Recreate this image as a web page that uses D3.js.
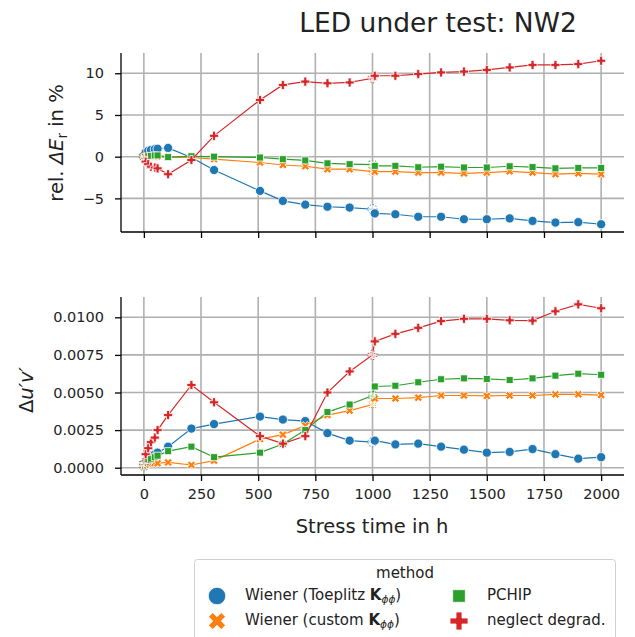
<!DOCTYPE html>
<html>
<head>
<meta charset="utf-8">
<script src="https://cdn.jsdelivr.net/npm/d3@7"></script>
<style>
  body { margin: 0; background: #fff; }
  svg text { font-family: "DejaVu Sans", sans-serif; fill: #222; }
</style>
</head>
<body>
<svg id="chart"></svg>
<script>
// stress times in h
const times = [0, 8, 19, 31, 48, 60, 106, 208, 307, 508, 608, 706, 803, 900, 1000, 1010, 1100, 1200, 1300, 1400, 1500, 1600, 1700, 1800, 1900, 2000]
// points drawn with a dashed outline (start of a measurement block)
const dashedIdx = [0, 14]

const methods = ["Wiener (Toeplitz)", "Wiener (custom)", "PCHIP", "neglect degrad."]

// rel. delta E_r in %
const toeplitzE = [0.1, 0.5, 0.7, 0.8, 0.9, 0.95, 1.05, -0.1, -1.6, -4.1, -5.3, -5.75, -6.0, -6.1, -6.3, -6.8, -6.9, -7.2, -7.2, -7.5, -7.5, -7.4, -7.7, -7.9, -7.85, -8.1]
const customE = [0, 0, 0, 0, 0, 0, -0.05, -0.1, -0.3, -0.7, -1.0, -1.15, -1.5, -1.5, -1.8, -1.8, -1.8, -1.9, -1.9, -2.0, -1.9, -1.75, -1.9, -2.1, -2.0, -2.1]
const pchipE = [0, 0, 0.05, 0.1, 0.15, 0.15, -0.05, 0.05, 0.0, -0.1, -0.3, -0.45, -0.8, -0.9, -0.95, -1.1, -1.1, -1.27, -1.2, -1.3, -1.3, -1.15, -1.25, -1.4, -1.35, -1.35]
const neglectE = [0, -0.6, -0.9, -1.2, -1.3, -1.4, -2.1, -0.4, 2.5, 6.8, 8.6, 9.0, 8.8, 8.9, 9.4, 9.7, 9.7, 9.9, 10.1, 10.2, 10.4, 10.7, 11.0, 11.0, 11.1, 11.5]

// delta u'v'
const toeplitzUV = [0.0001, 0.0004, 0.0006, 0.0008, 0.0009, 0.0010, 0.0014, 0.0026, 0.0029, 0.0034, 0.0032, 0.0031, 0.0023, 0.0018, 0.0017, 0.0018, 0.00155, 0.0016, 0.0014, 0.0012, 0.0010, 0.00105, 0.00124, 0.0009, 0.0006, 0.0007]
const customUV = [0.0001, 0.0002, 0.00025, 0.0003, 0.0003, 0.0003, 0.00035, 0.00018, 0.00047, 0.0019, 0.0022, 0.0028, 0.0035, 0.0038, 0.0042, 0.0046, 0.0046, 0.00466, 0.0048, 0.0048, 0.00477, 0.0048, 0.0048, 0.00488, 0.00488, 0.00483]
const pchipUV = [0.0002, 0.0004, 0.0005, 0.0006, 0.0007, 0.0008, 0.0011, 0.0014, 0.0007, 0.0010, 0.00158, 0.0025, 0.0037, 0.0042, 0.0048, 0.0054, 0.00545, 0.00568, 0.00588, 0.00594, 0.0059, 0.00583, 0.00594, 0.00612, 0.00625, 0.00618]
const neglectUV = [0.0003, 0.0009, 0.0013, 0.0017, 0.0020, 0.0025, 0.0035, 0.0055, 0.00435, 0.0021, 0.0016, 0.0021, 0.0050, 0.0064, 0.0075, 0.0084, 0.0089, 0.0093, 0.00975, 0.0099, 0.0099, 0.0098, 0.00978, 0.0104, 0.01086, 0.0106]

const xTicks = [0, 250, 500, 750, 1000, 1250, 1500, 1750, 2000]
const eTicks = [-5, 0, 5, 10]
const uvTicks = [0, 0.0025, 0.005, 0.0075, 0.01]

const config = {
    width: 635,
    height: 637,
    colors: ["#1f77b4", "#ff7f0e", "#2ca02c", "#d62728"],
    grid: "#b0b0b0",
    tickFont: "14.5px",
    labelFont: "19.5px",
    legendFont: "15px",
    x: { domain: [-100, 2100], range: [121, 624] },
    top: { domain: [-9.03, 12.43], range: [232, 53] },
    bottom: { domain: [-0.000485, 0.01135], range: [475, 297] }
}

const svg = d3.select("#chart")
    .attr("width", config.width)
    .attr("height", config.height)
    .style("background-color", "#fff")

const x = d3.scaleLinear().domain(config.x.domain).range(config.x.range)

// marker shapes: circle, filled X, square, filled plus
const markerPath = function (i, big) {
    const s = big ? [240, 180, 160, 180] : [66, 42, 49, 46]
    const types = [d3.symbolCircle, d3.symbolCross, d3.symbolSquare, d3.symbolCross]
    return d3.symbol().type(types[i]).size(s[i])()
}
const markerRot = i => i === 1 ? 45 : 0

const drawPanel = function (y, ticks, fmt, series) {
    const g = svg.append("g")
    const [y0, y1] = y.range()

    // grid
    g.selectAll(".vgrid").data(xTicks).join("line")
        .attr("x1", d => x(d)).attr("x2", d => x(d))
        .attr("y1", y1).attr("y2", y0)
        .style("stroke", config.grid).style("stroke-width", 1.6)
    g.selectAll(".hgrid").data(ticks).join("line")
        .attr("x1", config.x.range[0]).attr("x2", config.x.range[1])
        .attr("y1", d => y(d)).attr("y2", d => y(d))
        .style("stroke", config.grid).style("stroke-width", 1.6)

    // axes
    const ax = g.append("g").attr("transform", `translate(0,${y0})`)
        .call(d3.axisBottom(x).tickValues(xTicks).tickSize(6).tickFormat(fmt.x))
    const ay = g.append("g").attr("transform", `translate(${config.x.range[0]},0)`)
        .call(d3.axisLeft(y).tickValues(ticks).tickSize(6).tickFormat(fmt.y))
    for (const a of [ax, ay]) {
        a.select(".domain").style("stroke", "#000").style("stroke-width", 1.3)
        a.selectAll(".tick line").style("stroke", "#000").style("stroke-width", 1.3)
        a.selectAll(".tick text").style("font-size", config.tickFont).style("font-family", "DejaVu Sans").style("fill", "#222")
    }
    ax.select(".domain").attr("d", `M${config.x.range[0]},0H${config.x.range[1]}`)
    ay.select(".domain").attr("d", `M0,${y1}V${y0}`)
    ax.selectAll(".tick text").attr("y", 14).attr("dy", "0.71em")
    ay.selectAll(".tick text").attr("x", -17)

    // lines then markers, series in order
    const line = d3.line().x(d => x(d.t)).y(d => y(d.v))
    series.forEach((vals, i) => {
        const pts = vals.map((v, k) => ({ t: times[k], v: v, dashed: dashedIdx.includes(k) }))
        g.append("path").datum(pts)
            .attr("d", line)
            .style("fill", "none")
            .style("stroke", config.colors[i])
            .style("stroke-width", 1.2)
        g.selectAll(null).data(pts).join("path")
            .attr("d", markerPath(i, false))
            .attr("transform", d => `translate(${x(d.t)},${y(d.v)}) rotate(${markerRot(i)})`)
            .style("fill", d => d.dashed ? "#fff" : config.colors[i])
            .style("fill-opacity", d => d.dashed ? 0.6 : 1)
            .style("stroke", d => d.dashed ? config.colors[i] : "#fff")
            .style("stroke-dasharray", d => d.dashed ? "1.5,1.5" : null)
            .style("stroke-width", 0.8)
    })
}

const yTop = d3.scaleLinear().domain(config.top.domain).range(config.top.range)
const yBottom = d3.scaleLinear().domain(config.bottom.domain).range(config.bottom.range)

drawPanel(yTop, eTicks, { x: () => "", y: d => d3.format("")(d).replace("-", "\u2212") },
    [toeplitzE, customE, pchipE, neglectE])
drawPanel(yBottom, uvTicks, { x: d3.format(""), y: d3.format(".4f") },
    [toeplitzUV, customUV, pchipUV, neglectUV])

// title and labels
svg.append("text")
    .attr("x", 438).attr("y", 32)
    .attr("text-anchor", "middle")
    .style("font-size", "26.5px")
    .text("LED under test: NW2")

svg.append("text")
    .attr("x", 372).attr("y", 533)
    .attr("text-anchor", "middle")
    .style("font-size", config.labelFont)
    .text("Stress time in h")

const yl1 = svg.append("text")
    .attr("transform", "translate(63,143) rotate(-90)")
    .attr("text-anchor", "middle")
    .style("font-size", config.labelFont)
yl1.append("tspan").text("rel. ")
yl1.append("tspan").style("font-style", "italic").text("\u0394E")
yl1.append("tspan").attr("dy", 4).style("font-size", "13.5px").text("r")
yl1.append("tspan").attr("dy", -4).text(" in %")

const yl2 = svg.append("text")
    .attr("transform", "translate(33,390) rotate(-90)")
    .attr("text-anchor", "middle")
    .style("font-size", config.labelFont)
yl2.append("tspan").text("\u0394")
yl2.append("tspan").style("font-style", "italic").text("u\u2032v\u2032")

// legend
const legend = svg.append("g")
legend.append("rect")
    .attr("x", 194.5).attr("y", 559.5).attr("width", 421).attr("height", 90)
    .attr("rx", 3)
    .style("fill", "#fff").style("stroke", "#d0d0d0").style("stroke-width", 1)
legend.append("text")
    .attr("x", 405).attr("y", 578)
    .attr("text-anchor", "middle")
    .style("font-size", config.legendFont)
    .text("method")

const legendPos = [[217, 596], [217, 621], [459, 596], [459, 621]]
methods.forEach((m, i) => {
    const [lx, ly] = legendPos[i]
    legend.append("path")
        .attr("d", markerPath(i, true))
        .attr("transform", `translate(${lx},${ly}) rotate(${markerRot(i)})`)
        .style("fill", config.colors[i])
        .style("stroke", "#fff").style("stroke-width", 0.8)
    const t = legend.append("text")
        .attr("x", lx + 28).attr("y", ly + 4)
        .style("font-size", config.legendFont)
    if (i < 2) {
        t.append("tspan").text(i === 0 ? "Wiener (Toeplitz " : "Wiener (custom ")
        t.append("tspan").style("font-weight", "bold").text("K")
        t.append("tspan").attr("dy", 3).style("font-size", "10.5px").style("font-style", "italic").text("\u03d5\u03d5")
        t.append("tspan").attr("dy", -3).text(")")
    } else {
        t.text(m)
    }
})
</script>
</body>
</html>
